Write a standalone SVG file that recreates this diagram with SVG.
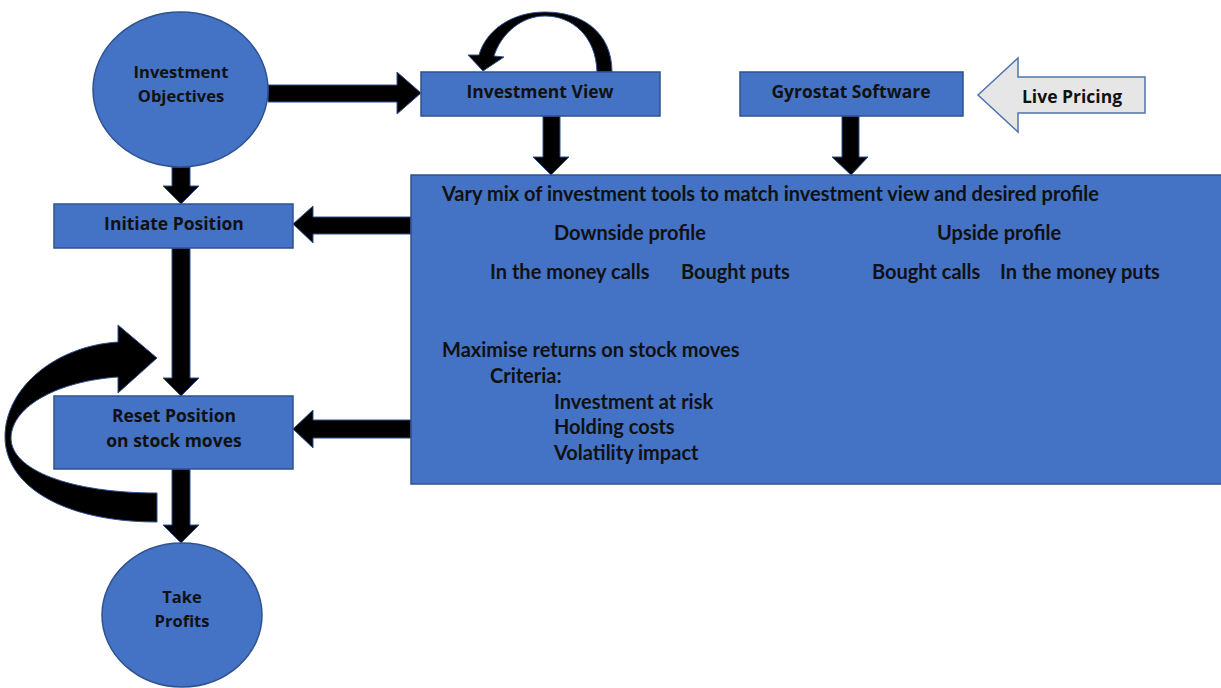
<svg xmlns="http://www.w3.org/2000/svg" width="1221" height="688" viewBox="0 0 1221 688">
<style>
.node{fill:#4472C4;stroke:#2F528F;stroke-width:1.5}
.arr{fill:#000;stroke:#2F528F;stroke-width:1}
.lbl{font-family:"Open Sans","Liberation Sans",sans-serif;font-weight:700;font-size:17.5px;fill:#111;text-anchor:middle;dominant-baseline:middle}
.sm{font-size:16.5px}
.txt{font-family:Lato,"Liberation Sans",sans-serif;font-weight:700;font-size:20px;fill:#111;dominant-baseline:middle}
</style>
<rect width="1221" height="688" fill="#fff"/>
<g id="connectors">
<polygon class="arr" points="268,85 397,85 397,72 421,93 397,114 397,102 268,102"/>
<polygon class="arr" points="543,116 560,116 560,157 569,157 551,175 533,157 543,157"/>
<polygon class="arr" points="842,116 859,116 859,157 868,157 851,175 832,157 842,157"/>
<polygon class="arr" points="172,167 190,167 190,186 199,186 181,204 163,186 172,186"/>
<polygon class="arr" points="411,217 313,217 313,206 293,224 313,243 313,234 411,234"/>
<polygon class="arr" points="172,248 190,248 190,378 199,378 181,396 163,378 172,378"/>
<polygon class="arr" points="411,420 313,420 313,410 293,429 313,448 313,438 411,438"/>
<polygon class="arr" points="172,469 190,469 190,525 199,525 181,543 163,525 172,525"/>
<path class="arr" d="M612,72 C612,32 582,12 545,12 C512,12 486,30 479,55 L468,55 L483,71 L504,57 L494,56 C501,34 521,16 545,16 C572,16 596,36 597,72 Z"/>
<path class="arr" d="M157,522 C62,522 5,485 5,437 C5,388 55,346 118,342 L118,325 L157,358 L118,393 L118,377 C60,381 12,405 11,438 C11,470 70,493 157,493 Z"/>
</g>
<g id="investment-objectives">
<ellipse class="node" cx="180.5" cy="89.5" rx="87.5" ry="77.5"/>
<text class="lbl sm" x="181" y="74">Investment</text>
<text class="lbl sm" x="181" y="98">Objectives</text>
</g>
<g id="investment-view">
<rect class="node" x="421" y="72" width="239" height="44"/>
<text class="lbl" x="540" y="93">Investment View</text>
</g>
<g id="gyrostat-software">
<rect class="node" x="740" y="72" width="223" height="44"/>
<text class="lbl" x="851" y="93">Gyrostat Software</text>
</g>
<g id="live-pricing">
<polygon points="978,95 1018,58 1018,77 1145,77 1145,113 1018,113 1018,132" fill="#E7E6E6" stroke="#4F72B0" stroke-width="1.5"/>
<text class="lbl" x="1072" y="98">Live Pricing</text>
</g>
<g id="tools-box">
<rect class="node" x="411" y="175" width="815" height="309"/>
<text class="txt" x="442" y="196">Vary mix of investment tools to match investment view and desired profile</text>
<text class="txt" x="554" y="235">Downside profile</text>
<text class="txt" x="937" y="235">Upside profile</text>
<text class="txt" x="490" y="274">In the money calls</text>
<text class="txt" x="681" y="274">Bought puts</text>
<text class="txt" x="872" y="274">Bought calls</text>
<text class="txt" x="1000" y="274">In the money puts</text>
<text class="txt" x="442" y="352">Maximise returns on stock moves</text>
<text class="txt" x="490" y="378">Criteria:</text>
<text class="txt" x="554" y="404">Investment at risk</text>
<text class="txt" x="554" y="429">Holding costs</text>
<text class="txt" x="554" y="455">Volatility impact</text>
</g>
<g id="initiate-position">
<rect class="node" x="54" y="204" width="239" height="44"/>
<text class="lbl" x="174" y="225">Initiate Position</text>
</g>
<g id="reset-position">
<rect class="node" x="54" y="396" width="239" height="73"/>
<text class="lbl" x="174" y="417">Reset Position</text>
<text class="lbl" x="174" y="442">on stock moves</text>
</g>
<g id="take-profits">
<ellipse class="node" cx="182" cy="615" rx="80" ry="72"/>
<text class="lbl sm" x="182" y="599">Take</text>
<text class="lbl sm" x="182" y="623">Profits</text>
</g>
</svg>
